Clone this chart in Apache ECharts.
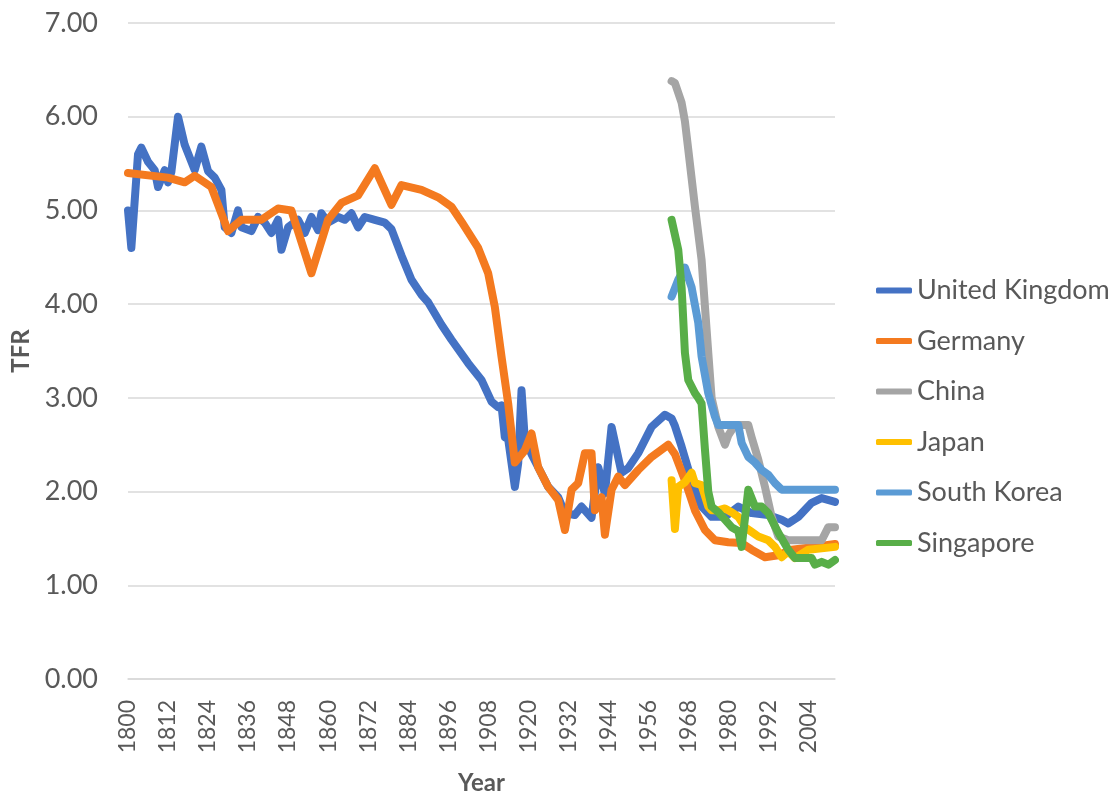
<!DOCTYPE html>
<html>
<head>
<meta charset="utf-8">
<script src="https://cdn.jsdelivr.net/npm/echarts@6/dist/echarts.min.js"></script>
<style>
  html, body { margin: 0; padding: 0; background: #fff; }
  #chart { width: 1115px; height: 796px; }
</style>
</head>
<body>
<div id="chart"></div>
<script>
// total fertility rate, [year, TFR]
const ukData = [
  [1800, 5.00], [1801, 4.60], [1803, 5.60], [1804, 5.67], [1806, 5.52], [1808, 5.43],
  [1809, 5.25], [1811, 5.43], [1812, 5.30], [1813, 5.41], [1815, 6.00], [1817, 5.70],
  [1820, 5.43], [1822, 5.68], [1824, 5.42], [1826, 5.35], [1828, 5.22], [1829, 4.82],
  [1831, 4.76], [1833, 5.00], [1834, 4.82], [1837, 4.78], [1839, 4.93], [1841, 4.87],
  [1843, 4.76], [1845, 4.90], [1846, 4.58], [1848, 4.82], [1851, 4.90], [1853, 4.76],
  [1855, 4.93], [1857, 4.79], [1858, 4.97], [1860, 4.87], [1863, 4.93], [1865, 4.90],
  [1867, 4.97], [1869, 4.82], [1871, 4.93], [1874, 4.90], [1877, 4.87], [1879, 4.80],
  [1882, 4.52], [1885, 4.26], [1888, 4.10], [1890, 4.02], [1894, 3.78], [1897, 3.62],
  [1902, 3.37], [1906, 3.19], [1909, 2.96], [1911, 2.90], [1912, 2.92], [1913, 2.58],
  [1914, 2.56], [1916, 2.05], [1917, 2.30], [1918, 3.08], [1919, 2.55], [1921, 2.40],
  [1923, 2.26], [1926, 2.05], [1929, 1.94], [1931, 1.77], [1934, 1.75], [1936, 1.84],
  [1939, 1.72], [1941, 2.26], [1943, 1.98], [1945, 2.69], [1948, 2.20], [1950, 2.25],
  [1953, 2.41], [1957, 2.69], [1961, 2.82], [1963, 2.78], [1964, 2.70], [1966, 2.48],
  [1969, 2.12], [1972, 1.84], [1975, 1.73], [1979, 1.73], [1983, 1.84], [1987, 1.77],
  [1992, 1.75], [1996, 1.70], [1998, 1.66], [2001, 1.73], [2005, 1.88], [2008, 1.93],
  [2012, 1.89]
]
const germanyData = [
  [1800, 5.40], [1812, 5.35], [1817, 5.30], [1820, 5.37], [1825, 5.25], [1830, 4.78],
  [1834, 4.90], [1840, 4.90], [1845, 5.02], [1849, 5.00], [1855, 4.33], [1860, 4.90],
  [1864, 5.08], [1869, 5.16], [1874, 5.45], [1879, 5.06], [1882, 5.27], [1888, 5.22],
  [1893, 5.14], [1897, 5.04], [1900, 4.88], [1905, 4.60], [1908, 4.33], [1910, 3.97],
  [1912, 3.44], [1914, 2.94], [1916, 2.31], [1919, 2.44], [1921, 2.62], [1923, 2.26],
  [1926, 2.05], [1929, 1.91], [1931, 1.59], [1933, 2.02], [1935, 2.09], [1937, 2.41],
  [1939, 2.41], [1940, 1.80], [1942, 1.94], [1943, 1.54], [1945, 2.02], [1947, 2.16],
  [1949, 2.07], [1953, 2.23], [1957, 2.37], [1962, 2.50], [1964, 2.40], [1967, 2.12],
  [1970, 1.80], [1973, 1.59], [1976, 1.48], [1980, 1.46], [1984, 1.45], [1987, 1.38],
  [1991, 1.30], [1995, 1.32], [1999, 1.38], [2004, 1.40], [2012, 1.44]
]
const chinaData = [
  [1963, 6.38], [1964, 6.36], [1966, 6.15], [1967, 5.95], [1968, 5.65], [1970, 5.04],
  [1972, 4.47], [1974, 3.48], [1975, 3.00], [1977, 2.69], [1979, 2.50], [1980, 2.60],
  [1982, 2.71], [1986, 2.71], [1987, 2.58], [1989, 2.34], [1991, 2.05], [1993, 1.73],
  [1995, 1.52], [1998, 1.48], [2008, 1.48], [2010, 1.62], [2012, 1.62]
]
const japanData = [
  [1963, 2.12], [1964, 1.60], [1965, 2.05], [1967, 2.10], [1969, 2.20], [1970, 2.09],
  [1972, 2.07], [1974, 1.84], [1975, 1.80], [1977, 1.80], [1979, 1.82], [1981, 1.78],
  [1983, 1.73], [1985, 1.62], [1987, 1.57], [1989, 1.52], [1992, 1.48], [1994, 1.41],
  [1996, 1.30], [1998, 1.36], [2000, 1.29], [2004, 1.38], [2012, 1.41]
]
const koreaData = [
  [1963, 4.08], [1965, 4.26], [1967, 4.39], [1969, 4.18], [1971, 3.80], [1972, 3.44],
  [1974, 3.05], [1976, 2.80], [1977, 2.71], [1983, 2.71], [1984, 2.52], [1986, 2.37],
  [1988, 2.31], [1990, 2.23], [1992, 2.18], [1994, 2.09], [1996, 2.02], [2012, 2.02]
]
const singaporeData = [
  [1963, 4.90], [1965, 4.58], [1966, 4.18], [1967, 3.48], [1968, 3.19], [1970, 3.05],
  [1971, 3.00], [1972, 2.94], [1973, 2.45], [1974, 2.00], [1975, 1.84], [1977, 1.78],
  [1979, 1.70], [1981, 1.62], [1983, 1.58], [1984, 1.41], [1986, 2.02], [1988, 1.84],
  [1990, 1.84], [1992, 1.77], [1995, 1.56], [1998, 1.38], [2000, 1.29], [2005, 1.29],
  [2006, 1.22], [2008, 1.25], [2010, 1.22], [2012, 1.27]
]

const countries = ['United Kingdom', 'Germany', 'China', 'Japan', 'South Korea', 'Singapore']
const colors = ['#4472C4', '#F47A1F', '#A5A5A5', '#FFC000', '#5B9BD5', '#58AE48']
const seriesData = [ukData, germanyData, chinaData, japanData, koreaData, singaporeData]

const textColor = '#595959'
const font = 'Lato'

const chart = echarts.init(document.getElementById('chart'))

chart.setOption({
  animation: false,
  color: colors,
  grid: { left: 128, right: 280, top: 23, bottom: 117, outerBoundsMode: 'none', containLabel: false },
  legend: {
    orient: 'vertical',
    left: 876,
    top: 277,
    padding: 0,
    icon: 'roundRect',
    itemWidth: 36,
    itemHeight: 6,
    itemGap: 23.5,
    data: countries,
    textStyle: { color: textColor, fontFamily: font, fontSize: 27, lineHeight: 26 }
  },
  xAxis: {
    type: 'value',
    min: 1800,
    max: 2012,
    interval: 12,
    name: 'Year',
    nameLocation: 'middle',
    nameGap: 92,
    nameTextStyle: { color: textColor, fontFamily: font, fontSize: 24, fontWeight: 'bold' },
    axisLine: { show: true, lineStyle: { color: '#d9d9d9', width: 1.5 } },
    axisTick: { show: false },
    splitLine: { show: false },
    axisLabel: {
      rotate: 90,
      margin: 21,
      showMaxLabel: false,
      color: textColor,
      fontFamily: font,
      fontSize: 23,
      formatter: v => String(v)
    }
  },
  yAxis: {
    type: 'value',
    min: 0,
    max: 7,
    interval: 1,
    name: 'TFR',
    nameLocation: 'middle',
    nameRotate: 90,
    nameGap: 90,
    nameTextStyle: { color: textColor, fontFamily: font, fontSize: 24, fontWeight: 'bold' },
    axisLine: { show: false },
    axisTick: { show: false },
    splitLine: { lineStyle: { color: '#d9d9d9', width: 1.5 } },
    axisLabel: {
      margin: 30,
      color: textColor,
      fontFamily: font,
      fontSize: 27,
      formatter: v => v.toFixed(2)
    }
  },
  series: countries.map((name, i) => ({
    name,
    type: 'line',
    data: seriesData[i],
    symbol: 'none',
    lineStyle: { width: 8, cap: 'round', join: 'round' }
  }))
})
</script>
</body>
</html>
